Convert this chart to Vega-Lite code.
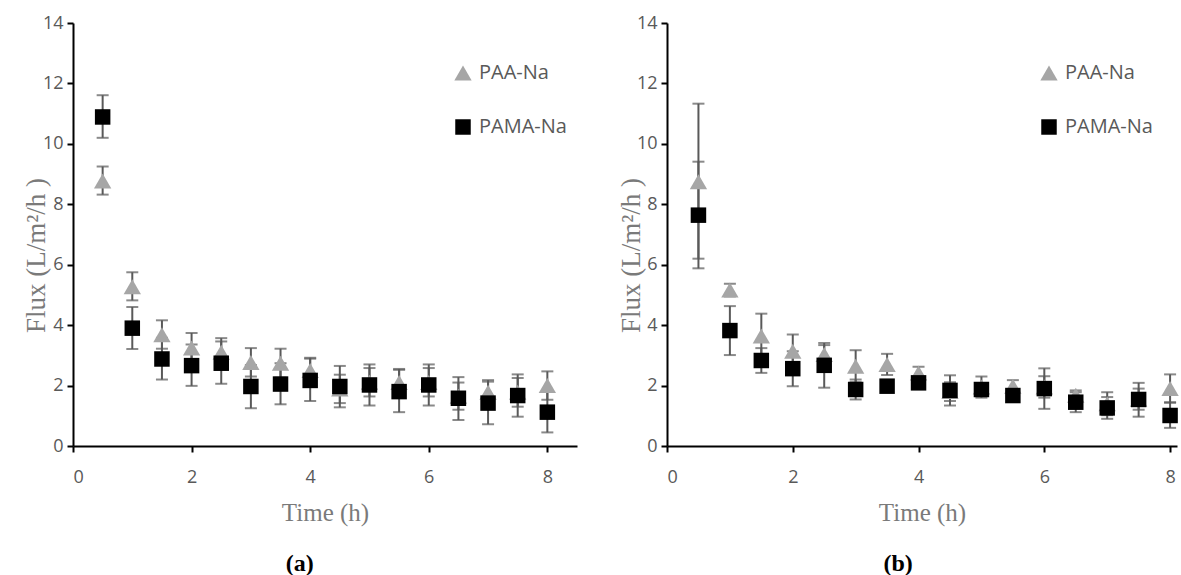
{
  "$schema": "https://vega.github.io/schema/vega-lite/v6.json",
  "background": "white",
  "padding": {"left": 22, "top": 14, "right": 0, "bottom": 0},
  "bounds": "flush",
  "spacing": 90,
  "config": {
    "view": {"stroke": null},
    "axis": {
      "grid": false,
      "domainColor": "#000000",
      "domainWidth": 2,
      "tickColor": "#000000",
      "tickWidth": 2,
      "tickSize": 6,
      "labelFont": "Open Sans",
      "labelFontSize": 18,
      "labelColor": "#595959",
      "titleFont": "Liberation Serif",
      "titleFontSize": 25,
      "titleFontWeight": "normal",
      "titleColor": "#7a7a7a"
    },
    "axisX": {"labelPadding": 16, "titlePadding": 14},
    "axisY": {"labelPadding": 4, "titleY": 232, "titleFontSize": 27},
    "legend": {
      "labelFont": "Open Sans",
      "labelFontSize": 20,
      "labelColor": "#595959",
      "symbolStrokeWidth": 0,
      "rowPadding": 34,
      "padding": 0,
      "labelOffset": 6
    },
    "title": {"font": "Liberation Serif", "fontSize": 24, "fontWeight": "bold", "color": "#000000"}
  },
  "datasets": {
    "a": [
      {"time": 0.5, "series": "PAA-Na", "flux": 8.77, "lo": 8.32, "hi": 9.25},
      {"time": 1.0, "series": "PAA-Na", "flux": 5.27, "lo": 4.82, "hi": 5.75},
      {"time": 1.5, "series": "PAA-Na", "flux": 3.68, "lo": 3.22, "hi": 4.16},
      {"time": 2.0, "series": "PAA-Na", "flux": 3.24, "lo": 2.76, "hi": 3.74},
      {"time": 2.5, "series": "PAA-Na", "flux": 3.10, "lo": 2.64, "hi": 3.57},
      {"time": 3.0, "series": "PAA-Na", "flux": 2.76, "lo": 2.30, "hi": 3.24},
      {"time": 3.5, "series": "PAA-Na", "flux": 2.74, "lo": 2.26, "hi": 3.22},
      {"time": 4.0, "series": "PAA-Na", "flux": 2.50, "lo": 2.10, "hi": 2.92},
      {"time": 4.5, "series": "PAA-Na", "flux": 1.89, "lo": 1.42, "hi": 2.36},
      {"time": 5.0, "series": "PAA-Na", "flux": 2.11, "lo": 1.64, "hi": 2.58},
      {"time": 5.5, "series": "PAA-Na", "flux": 2.10, "lo": 1.65, "hi": 2.55},
      {"time": 6.0, "series": "PAA-Na", "flux": 2.10, "lo": 1.64, "hi": 2.58},
      {"time": 6.5, "series": "PAA-Na", "flux": 1.65, "lo": 1.20, "hi": 2.10},
      {"time": 7.0, "series": "PAA-Na", "flux": 1.78, "lo": 1.38, "hi": 2.18},
      {"time": 7.5, "series": "PAA-Na", "flux": 1.78, "lo": 1.30, "hi": 2.25},
      {"time": 8.0, "series": "PAA-Na", "flux": 2.00, "lo": 1.53, "hi": 2.47},
      {"time": 0.5, "series": "PAMA-Na", "flux": 10.89, "lo": 10.20, "hi": 11.61},
      {"time": 1.0, "series": "PAMA-Na", "flux": 3.90, "lo": 3.21, "hi": 4.60},
      {"time": 1.5, "series": "PAMA-Na", "flux": 2.88, "lo": 2.20, "hi": 3.58},
      {"time": 2.0, "series": "PAMA-Na", "flux": 2.66, "lo": 1.99, "hi": 3.36},
      {"time": 2.5, "series": "PAMA-Na", "flux": 2.74, "lo": 2.06, "hi": 3.46},
      {"time": 3.0, "series": "PAMA-Na", "flux": 1.97, "lo": 1.25, "hi": 2.68},
      {"time": 3.5, "series": "PAMA-Na", "flux": 2.05, "lo": 1.38, "hi": 2.74},
      {"time": 4.0, "series": "PAMA-Na", "flux": 2.17, "lo": 1.49, "hi": 2.89},
      {"time": 4.5, "series": "PAMA-Na", "flux": 1.97, "lo": 1.28, "hi": 2.65},
      {"time": 5.0, "series": "PAMA-Na", "flux": 2.02, "lo": 1.34, "hi": 2.70},
      {"time": 5.5, "series": "PAMA-Na", "flux": 1.80, "lo": 1.12, "hi": 2.52},
      {"time": 6.0, "series": "PAMA-Na", "flux": 2.02, "lo": 1.34, "hi": 2.70},
      {"time": 6.5, "series": "PAMA-Na", "flux": 1.58, "lo": 0.86, "hi": 2.28},
      {"time": 7.0, "series": "PAMA-Na", "flux": 1.42, "lo": 0.72, "hi": 2.13},
      {"time": 7.5, "series": "PAMA-Na", "flux": 1.67, "lo": 0.97, "hi": 2.37},
      {"time": 8.0, "series": "PAMA-Na", "flux": 1.12, "lo": 0.45, "hi": 1.79}
    ],
    "b": [
      {"time": 0.5, "series": "PAA-Na", "flux": 8.75, "lo": 6.20, "hi": 11.33},
      {"time": 1.0, "series": "PAA-Na", "flux": 5.16, "lo": 4.95, "hi": 5.37},
      {"time": 1.5, "series": "PAA-Na", "flux": 3.64, "lo": 2.90, "hi": 4.38},
      {"time": 2.0, "series": "PAA-Na", "flux": 3.14, "lo": 2.60, "hi": 3.69},
      {"time": 2.5, "series": "PAA-Na", "flux": 3.03, "lo": 2.72, "hi": 3.34},
      {"time": 3.0, "series": "PAA-Na", "flux": 2.64, "lo": 2.11, "hi": 3.17},
      {"time": 3.5, "series": "PAA-Na", "flux": 2.70, "lo": 2.35, "hi": 3.05},
      {"time": 4.0, "series": "PAA-Na", "flux": 2.42, "lo": 2.20, "hi": 2.62},
      {"time": 4.5, "series": "PAA-Na", "flux": 1.80, "lo": 1.49, "hi": 2.11},
      {"time": 5.0, "series": "PAA-Na", "flux": 1.95, "lo": 1.60, "hi": 2.30},
      {"time": 5.5, "series": "PAA-Na", "flux": 1.98, "lo": 1.80, "hi": 2.18},
      {"time": 6.0, "series": "PAA-Na", "flux": 1.95, "lo": 1.60, "hi": 2.31},
      {"time": 6.5, "series": "PAA-Na", "flux": 1.68, "lo": 1.52, "hi": 1.84},
      {"time": 7.0, "series": "PAA-Na", "flux": 1.40, "lo": 1.02, "hi": 1.78},
      {"time": 7.5, "series": "PAA-Na", "flux": 1.55, "lo": 1.20, "hi": 1.90},
      {"time": 8.0, "series": "PAA-Na", "flux": 1.90, "lo": 1.43, "hi": 2.37},
      {"time": 0.5, "series": "PAMA-Na", "flux": 7.64, "lo": 5.88, "hi": 9.41},
      {"time": 1.0, "series": "PAMA-Na", "flux": 3.82, "lo": 3.01, "hi": 4.63},
      {"time": 1.5, "series": "PAMA-Na", "flux": 2.83, "lo": 2.42, "hi": 3.24},
      {"time": 2.0, "series": "PAMA-Na", "flux": 2.56, "lo": 1.98, "hi": 3.14},
      {"time": 2.5, "series": "PAMA-Na", "flux": 2.67, "lo": 1.93, "hi": 3.41},
      {"time": 3.0, "series": "PAMA-Na", "flux": 1.87, "lo": 1.54, "hi": 2.20},
      {"time": 3.5, "series": "PAMA-Na", "flux": 1.98, "lo": 1.85, "hi": 2.11},
      {"time": 4.0, "series": "PAMA-Na", "flux": 2.09, "lo": 1.95, "hi": 2.23},
      {"time": 4.5, "series": "PAMA-Na", "flux": 1.84, "lo": 1.34, "hi": 2.34},
      {"time": 5.0, "series": "PAMA-Na", "flux": 1.87, "lo": 1.70, "hi": 2.04},
      {"time": 5.5, "series": "PAMA-Na", "flux": 1.67, "lo": 1.55, "hi": 1.79},
      {"time": 6.0, "series": "PAMA-Na", "flux": 1.90, "lo": 1.23, "hi": 2.57},
      {"time": 6.5, "series": "PAMA-Na", "flux": 1.45, "lo": 1.12, "hi": 1.78},
      {"time": 7.0, "series": "PAMA-Na", "flux": 1.26, "lo": 0.90, "hi": 1.62},
      {"time": 7.5, "series": "PAMA-Na", "flux": 1.54, "lo": 0.97, "hi": 2.09},
      {"time": 8.0, "series": "PAMA-Na", "flux": 1.01, "lo": 0.60, "hi": 1.45}
    ]
  },
  "hconcat": [
    {
      "width": 504,
      "height": 423,
      "data": {"name": "a"},
      "title": {"text": "(a)", "orient": "bottom", "offset": 27, "anchor": "middle", "frame": "bounds"},
      "encoding": {
        "x": {"field": "time", "type": "quantitative", "title": "Time (h)",
              "scale": {"domain": [0, 8.5], "nice": false, "zero": false},
              "axis": {"values": [0, 2, 4, 6, 8]}}
      },
      "layer": [
        {
          "mark": {"type": "rule", "color": "#595959", "strokeWidth": 2},
          "encoding": {
            "y": {"field": "lo", "type": "quantitative", "title": "Flux (L/m²/h )",
                  "scale": {"domain": [0, 14], "nice": false},
                  "axis": {"values": [0, 2, 4, 6, 8, 10, 12, 14], "titleX": -22.5}},
            "y2": {"field": "hi"}
          }
        },
        {
          "mark": {"type": "tick", "orient": "horizontal", "size": 12, "thickness": 2, "color": "#595959"},
          "encoding": {"y": {"field": "lo", "type": "quantitative", "title": "Flux (L/m²/h )"}}
        },
        {
          "mark": {"type": "tick", "orient": "horizontal", "size": 12, "thickness": 2, "color": "#595959"},
          "encoding": {"y": {"field": "hi", "type": "quantitative", "title": "Flux (L/m²/h )"}}
        },
        {
          "mark": {"type": "point", "filled": true, "opacity": 1, "strokeWidth": 0},
          "encoding": {
            "y": {"field": "flux", "type": "quantitative", "title": "Flux (L/m²/h )"},
            "shape": {"field": "series", "type": "nominal",
                      "scale": {"domain": ["PAA-Na", "PAMA-Na"], "range": ["triangle-up", "square"]},
                      "legend": {"title": null, "orient": "none", "legendX": 380, "legendY": 40}},
            "color": {"field": "series", "type": "nominal",
                      "scale": {"domain": ["PAA-Na", "PAMA-Na"], "range": ["#a6a6a6", "#000000"]},
                      "legend": {"title": null, "orient": "none", "legendX": 380, "legendY": 40}},
            "size": {"field": "series", "type": "nominal",
                      "scale": {"domain": ["PAA-Na", "PAMA-Na"], "range": [300, 240]},
                      "legend": {"title": null, "orient": "none", "legendX": 380, "legendY": 40}}
          }
        }
      ]
    },
    {
      "width": 510,
      "height": 423,
      "data": {"name": "b"},
      "title": {"text": "(b)", "orient": "bottom", "offset": 27, "anchor": "middle", "frame": "bounds"},
      "encoding": {
        "x": {"field": "time", "type": "quantitative", "title": "Time (h)",
              "scale": {"domain": [0, 8.11], "nice": false, "zero": false},
              "axis": {"values": [0, 2, 4, 6, 8]}}
      },
      "layer": [
        {
          "mark": {"type": "rule", "color": "#595959", "strokeWidth": 2},
          "encoding": {
            "y": {"field": "lo", "type": "quantitative", "title": "Flux (L/m²/h )",
                  "scale": {"domain": [0, 14], "nice": false},
                  "axis": {"values": [0, 2, 4, 6, 8, 10, 12, 14], "titleX": -21.5}},
            "y2": {"field": "hi"}
          }
        },
        {
          "mark": {"type": "tick", "orient": "horizontal", "size": 12, "thickness": 2, "color": "#595959"},
          "encoding": {"y": {"field": "lo", "type": "quantitative", "title": "Flux (L/m²/h )"}}
        },
        {
          "mark": {"type": "tick", "orient": "horizontal", "size": 12, "thickness": 2, "color": "#595959"},
          "encoding": {"y": {"field": "hi", "type": "quantitative", "title": "Flux (L/m²/h )"}}
        },
        {
          "mark": {"type": "point", "filled": true, "opacity": 1, "strokeWidth": 0},
          "encoding": {
            "y": {"field": "flux", "type": "quantitative", "title": "Flux (L/m²/h )"},
            "shape": {"field": "series", "type": "nominal",
                      "scale": {"domain": ["PAA-Na", "PAMA-Na"], "range": ["triangle-up", "square"]},
                      "legend": {"title": null, "orient": "none", "legendX": 372, "legendY": 40}},
            "color": {"field": "series", "type": "nominal",
                      "scale": {"domain": ["PAA-Na", "PAMA-Na"], "range": ["#a6a6a6", "#000000"]},
                      "legend": {"title": null, "orient": "none", "legendX": 372, "legendY": 40}},
            "size": {"field": "series", "type": "nominal",
                      "scale": {"domain": ["PAA-Na", "PAMA-Na"], "range": [300, 240]},
                      "legend": {"title": null, "orient": "none", "legendX": 372, "legendY": 40}}
          }
        }
      ]
    }
  ],
  "resolve": {"scale": {"x": "independent", "y": "independent", "shape": "independent", "color": "independent", "size": "independent"}}
}
